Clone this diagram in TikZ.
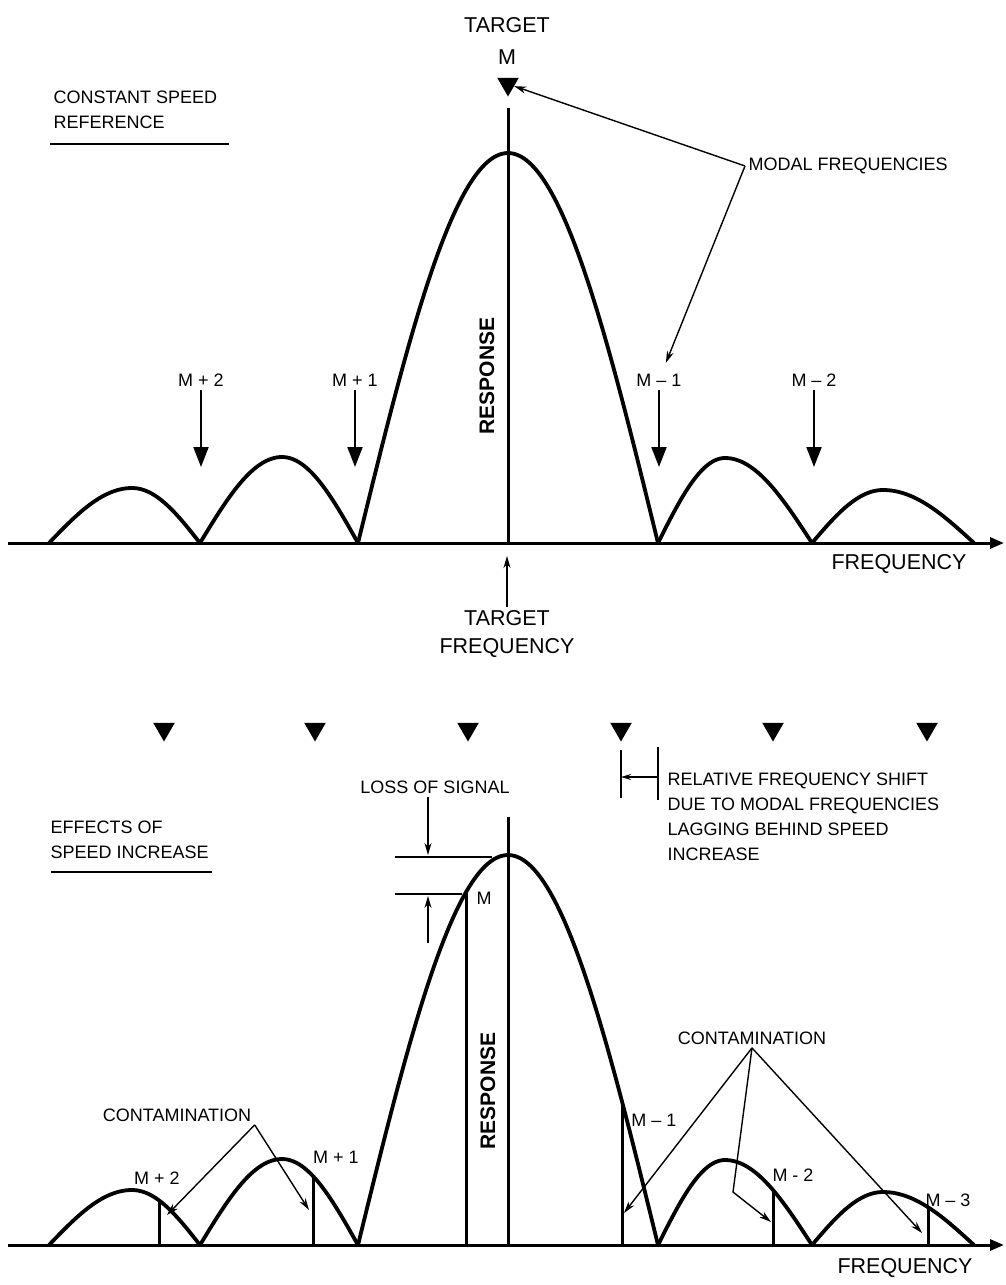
\documentclass[tikz,border=0pt]{standalone}
\usepackage{fontspec}
\setmainfont{Liberation Sans}
\usetikzlibrary{arrows.meta,shapes.geometric}
\tikzset{
  lobe/.style={line width=3.8pt,line join=round,smooth,samples=60,variable=\x},
  freqaxis/.style={line width=3pt,-{Triangle[length=14pt,width=11pt]}},
  vline/.style={line width=3pt},
  leader/.style={line width=1.4pt},
  modal/.style={line width=2pt,-{Triangle[length=20pt,width=15pt]}},
  pointer/.style={line width=1.4pt,-{Stealth[length=12pt,width=7pt]}},
  marker/.style={regular polygon,regular polygon sides=3,shape border rotate=180,fill=black,inner sep=0pt,minimum size=25pt},
  lbl/.style={font=\fontsize{18}{25}\selectfont},
  big/.style={font=\fontsize{21.5}{28}\selectfont},
  resp/.style={font=\fontsize{21}{28}\selectfont\bfseries,rotate=90},
}
% side lobe: base, start, peak, end, height
\newcommand\sidelobe[5]{%
  \draw[lobe,domain=#2:#4] plot ({\x},{#1-#5*((\x<#3) ? sin(90*(\x-#2)/(#3-#2)) : sin(90*(#4-\x)/(#4-#3)))});}
\begin{document}
\begin{tikzpicture}[x=1pt,y=-1pt,lbl]
\useasboundingbox (0,0) rectangle (1006,1285);
% axes and spectra
\foreach \b in {543,1245}{
  \draw[freqaxis] (8,\b) -- (1004,\b);
  \sidelobe{\b}{49}{132}{200}{55}
  \sidelobe{\b}{200}{282}{358}{86}
  \draw[lobe,domain=358:658] plot ({\x},{\b-390*cos(90*(\x-508)/150)});
  \sidelobe{\b}{658}{725}{812}{85}
  \sidelobe{\b}{812}{883}{974}{53}
}
% constant speed reference
\node[anchor=north west,align=left] (csr) at (50,87) {CONSTANT SPEED\\REFERENCE};
\draw[line width=2.2pt] (50,144) -- (229,144);
\node[big] (target) at (507,25) {TARGET};
\node[big] (tm) at (507,57) {M};
\node[marker] (t0) at (508,84) {};
\draw[vline] (508,108) -- (508,543);
\node[resp] (resp1) at (487,376) {RESPONSE};
\node[anchor=west] (modal) at (745,166) {MODAL FREQUENCIES};
\foreach \n/\t/\xx in {mp2/M + 2/201,mp1/M + 1/355,mm1/M – 1/659,mm2/M – 2/814}{
  \node (\n) at (\xx,380) {\t};
  \coordinate (\n-tip) at (\xx,467);
  \draw[modal] (\n) -- (\n-tip);
}
\draw[pointer] (modal.west) -- (t0);
\draw[pointer,shorten >=8pt] (modal.west) -- (mm1);
\node[big,align=center] (tf) at (507,634) {TARGET\\FREQUENCY};
\coordinate (tf-tip) at (507,556);
\draw[pointer] (tf) -- (tf-tip);
\node[big] (fq1) at (899,564) {FREQUENCY};
% speed increase
\foreach \i/\xx in {1/164,2/315,3/468,4/621,5/773,6/927}
  \node[marker] (m\i) at (\xx,729) {};
\coordinate (s1) at (621,777);
\coordinate (s2) at (658,777);
\draw[leader] (621,750) -- (621,798);
\draw[leader] (658,747) -- (658,800);
\draw[leader,-{Stealth[length=10pt,width=6pt]}] (s2) -- (s1);
\node[anchor=north west,align=left] (shift) at (664,769) {RELATIVE FREQUENCY SHIFT\\DUE TO MODAL FREQUENCIES\\LAGGING BEHIND SPEED\\INCREASE};
\node[anchor=north west,align=left] (eff) at (47,817) {EFFECTS OF\\SPEED INCREASE};
\draw[line width=2.2pt] (51,872) -- (212,872);
% loss of signal
\node (loss) at (435,787) {LOSS OF SIGNAL};
\draw[leader] (395,857) -- (492,857);
\draw[leader] (395,894) -- (462,894);
\coordinate (la) at (428,855);
\coordinate (lb) at (428,896);
\coordinate (lc) at (428,943);
\draw[pointer] (loss.south -| la) -- (la);
\draw[pointer] (lc) -- (lb);
\draw[vline] (466,1245) -- (466,{1245-390*cos(90*(466-508)/150)});
\node (mm) at (484,898) {M};
\draw[vline] (508,817) -- (508,1245);
\node[resp] (resp2) at (488,1091) {RESPONSE};
% shifted modal lines
\draw[vline] (159,1245) -- (159,{1245-55*sin(90*(200-159)/68)});
\draw[vline] (313,1245) -- (313,{1245-86*sin(90*(358-313)/76)});
\draw[vline] (622,1245) -- (622,{1245-390*cos(90*(622-508)/150)});
\draw[vline] (773,1245) -- (773,{1245-85*sin(90*(812-773)/87)});
\draw[vline] (928,1245) -- (928,{1245-53*sin(90*(974-928)/91)});
\node (b-mp2) at (157,1178) {M + 2};
\node (b-mp1) at (336,1157) {M + 1};
\node (b-mm1) at (654,1120) {M – 1};
\node (b-mm2) at (793,1175) {M - 2};
\node (b-mm3) at (948,1200) {M – 3};
% contamination
\node (contl) at (177,1115) {CONTAMINATION};
\coordinate (cl1) at (167,1215);
\coordinate (cl2) at (309,1210);
\draw[pointer] (contl.south east) -- (cl1);
\draw[pointer] (contl.south east) -- (cl2);
\node (contr) at (752,1038) {CONTAMINATION};
\coordinate (cr1) at (624,1213);
\coordinate (cr2) at (733,1192);
\coordinate (cr3) at (771,1222);
\coordinate (cr4) at (922,1233);
\draw[pointer] (contr.south) -- (cr1);
\draw[pointer] (contr.south) -- (cr2) -- (cr3);
\draw[pointer] (contr.south) -- (cr4);
\node[big] (fq2) at (905,1268) {FREQUENCY};
\end{tikzpicture}
\end{document}
